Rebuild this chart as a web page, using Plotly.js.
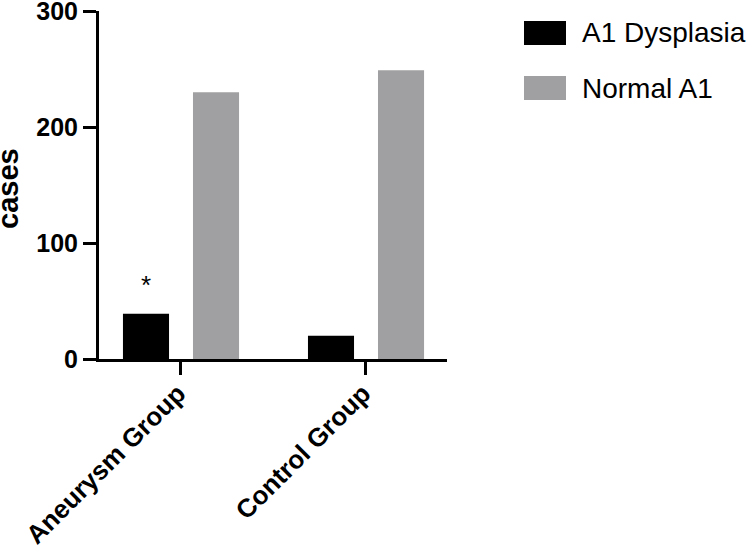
<!DOCTYPE html>
<html>
<head>
<meta charset="utf-8">
<script src="https://cdn.plot.ly/plotly-3.0.1.min.js"></script>
<style>
  html, body { margin: 0; padding: 0; background: #fff; }
  #chart { width: 750px; height: 547px; }
</style>
</head>
<body>
<div id="chart"></div>
<script>
// Groups on the x axis
const groups = ['Aneurysm Group', 'Control Group'];

// Case counts per group
const dysplasiaName = 'A1 Dysplasia';
const dysplasiaCases = [39, 20];
const normalName = 'Normal A1';
const normalCases = [230, 249];

// Significance marks above the dysplasia bars
const dysplasiaMarks = ['*', ''];

const yTicks = [0, 100, 200, 300];
const yTitle = 'cases';

const FONT = '"Liberation Sans", Arial, Helvetica, sans-serif';
const BLACK = '#000000';
const GREY = '#a0a0a2';

// bar geometry in category units
const BAR_W = 0.249;
const OFF_DYS = -0.3135;
const OFF_NORM = 0.065;

const traces = [
  {
    type: 'bar', name: dysplasiaName, x: groups, y: dysplasiaCases,
    width: BAR_W, offset: OFF_DYS,
    marker: { color: BLACK, line: { width: 0 } },
    showlegend: false, hoverinfo: 'skip'
  },
  {
    type: 'bar', name: normalName, x: groups, y: normalCases,
    width: BAR_W, offset: OFF_NORM,
    marker: { color: GREY, line: { width: 0 } },
    showlegend: false, hoverinfo: 'skip'
  }
];

const annotations = [];
dysplasiaMarks.forEach((m, i) => {
  if (!m) return;
  annotations.push({
    x: i + OFF_DYS + BAR_W / 2, y: dysplasiaCases[i],
    xref: 'x', yref: 'y', text: m, showarrow: false,
    yanchor: 'bottom', yshift: 12,
    font: { family: FONT, size: 26, color: BLACK }
  });
});

// y axis title, set close to the left edge
annotations.push({
  xref: 'paper', yref: 'paper', x: (8 - 99) / 348, y: (359 - 189) / 348,
  xanchor: 'center', yanchor: 'middle', textangle: -90, showarrow: false,
  text: yTitle, font: { family: FONT, size: 29, color: BLACK, weight: 'bold' }
});

// legend: swatch rectangles plus labels
const legendItems = [
  { name: dysplasiaName, color: BLACK, y0: 21, y1: 45 },
  { name: normalName, color: GREY, y0: 76, y1: 100 }
];
const shapes = [];
legendItems.forEach(it => {
  shapes.push({
    type: 'rect', xref: 'paper', yref: 'paper',
    x0: (524 - 99) / 348, x1: (566 - 99) / 348,
    y0: (359 - it.y1) / 348, y1: (359 - it.y0) / 348,
    fillcolor: it.color, line: { width: 0 }
  });
  annotations.push({
    xref: 'paper', yref: 'paper',
    x: (580 - 99) / 348, y: (359 - (it.y0 + it.y1) / 2) / 348,
    xanchor: 'left', yanchor: 'middle', showarrow: false,
    text: it.name, font: { family: FONT, size: 28, color: BLACK }
  });
});

const layout = {
  width: 750, height: 547,
  margin: { l: 99, r: 303, t: 11, b: 188 },
  paper_bgcolor: '#fff', plot_bgcolor: '#fff',
  barmode: 'group',
  showlegend: false,
  font: { family: FONT, color: BLACK },
  xaxis: {
    type: 'category',
    range: [-0.443, 1.438],
    showline: true, linecolor: BLACK, linewidth: 3,
    ticks: 'outside', ticklen: 13, tickwidth: 3, tickcolor: BLACK,
    tickangle: -45,
    ticklabeloverflow: 'allow',
    ticklabelshift: -3, ticklabelstandoff: -7,
    tickfont: { family: FONT, size: 26, color: BLACK, weight: 'bold' },
    showgrid: false, zeroline: false, fixedrange: true
  },
  yaxis: {
    range: [0, 300],
    tickvals: yTicks, ticktext: yTicks.map(String),
    showline: true, linecolor: BLACK, linewidth: 3,
    ticks: 'outside', ticklen: 13, tickwidth: 3, tickcolor: BLACK,
    ticklabeloverflow: 'allow',
    tickfont: { family: FONT, size: 25, color: BLACK, weight: 'bold' },
    showgrid: false, zeroline: false, fixedrange: true
  },
  annotations: annotations,
  shapes: shapes
};

Plotly.newPlot('chart', traces, layout, { staticPlot: true, displayModeBar: false });
</script>
</body>
</html>
